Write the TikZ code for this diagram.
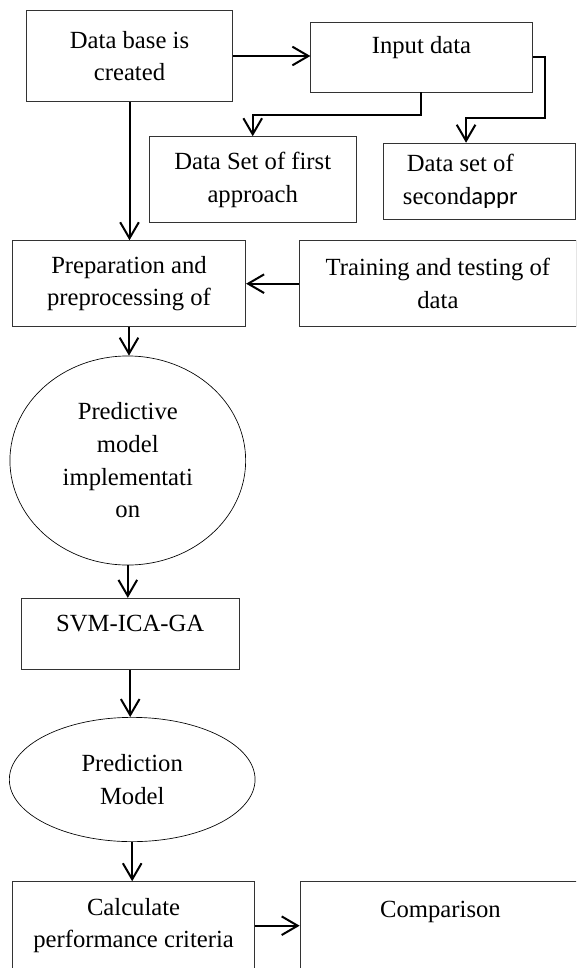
\documentclass[tikz,border=0pt]{standalone}
\usepackage{fontspec}
\setmainfont{Liberation Serif}
\newfontfamily\sansAppr{Carlito}
\usepackage{tikz}
\usetikzlibrary{positioning,arrows.meta,shapes.geometric}
\tikzset{
  flowBox/.style={
    rectangle,
    draw=black!80,
    line width=0.7pt,
    align=center,
    inner sep=0pt,
    font=\fontsize{18.5}{24.5}\selectfont
  },
  flowOval/.style={
    ellipse,
    draw=black,
    line width=0.5pt,
    align=center,
    inner sep=0pt,
    font=\fontsize{18.5}{24.5}\selectfont
  },
  arrowLine/.style={
    -{Straight Barb[length=12pt,width=14pt]},
    line width=1.5pt
  }
}

\begin{document}
\begin{tikzpicture}[x=0.75pt, y=-0.75pt]
        \useasboundingbox (0,0) rectangle (576,968);
        \clip (0,0) rectangle (576,968);

        % data sources
        \node[flowBox, minimum width=154pt, minimum height=68pt] (dbBox) at (129.5,56) {Data base is\\created};
        \node[flowBox, minimum width=166pt, minimum height=52.5pt] (inputBox) at (421.5,57) {Input data\\[-6pt]~};
        \node[flowBox, minimum width=155.5pt, minimum height=64.5pt] (firstBox) at (252.7,179.7) {Data Set of first\\approach};
        \node[flowBox, minimum width=144pt, minimum height=57pt] (secondBox) at (479,181.2) {Data set of\hspace*{28pt}\\second{\sansAppr appr}\hspace*{28pt}};

        \draw[arrowLine] (dbBox.east) -- (dbBox.east -| inputBox.west);
        \coordinate (bendA) at (421,115);
        \coordinate (bendB) at (545,118.3);
        \draw[arrowLine] (bendA |- inputBox.south) -- (bendA) -| (firstBox.north);
        \draw[arrowLine] (inputBox.east) -| (bendB) -| ([xshift=-9.7pt]secondBox.north);

        % preprocessing
        \node[flowBox, minimum width=175pt, minimum height=64.5pt] (prepBox) at (129,283.7) {Preparation and\\preprocessing of};
        \node[flowBox, minimum width=208pt, minimum height=64.5pt, right=39.5pt of prepBox] (trainBox) {Training and testing of\\data};

        \draw[arrowLine] (dbBox.south) -- (dbBox.south |- prepBox.north);
        \draw[arrowLine] (trainBox.west) -- (prepBox.east);

        % model chain
        \node[flowOval, minimum width=176.8pt, minimum height=156.8pt] (predImpl) at (127.8,460.5) {Predictive\\model\\implementati\\on};
        \node[flowBox, minimum width=163.7pt, minimum height=53pt] (svmBox) at (130.2,633.7) {SVM-ICA-GA\\[-9pt]~};
        \node[flowOval, minimum width=184.3pt, minimum height=93.2pt] (predModel) at (132.2,779.5) {Prediction\\Model};

        \draw[arrowLine] (prepBox.south) -- (prepBox.south |- predImpl.north);
        \draw[arrowLine] (predImpl.south) -- (predImpl.south |- svmBox.north);
        \draw[arrowLine] (svmBox.south) -- (svmBox.south |- predModel.north);

        % evaluation
        \node[flowBox, minimum width=182pt, minimum height=66pt] (calcBox) at (133.6,925.7) {Calculate\\performance criteria};
        \node[flowBox, minimum width=210.5pt, minimum height=66pt, right=33.2pt of calcBox] (compBox) {Comparison\\~};

        \draw[arrowLine] (predModel.south) -- (predModel.south |- calcBox.north);
        \draw[arrowLine] (calcBox.east) -- (compBox.west);

    \end{tikzpicture}
\end{document}
